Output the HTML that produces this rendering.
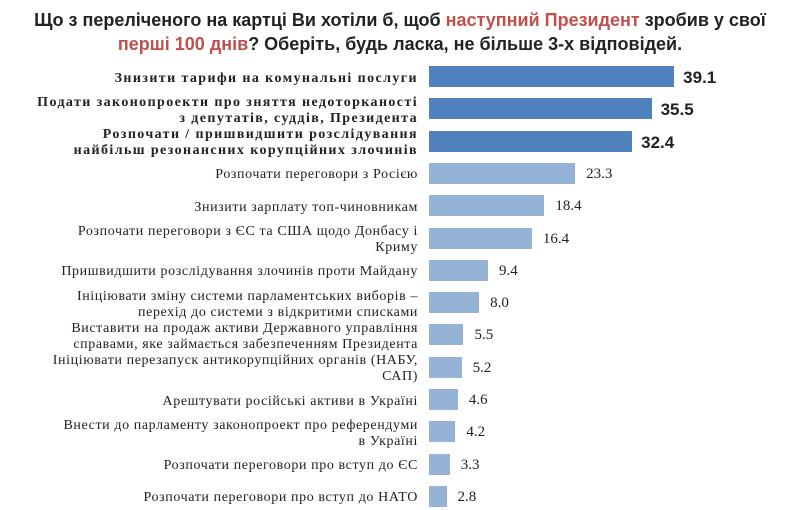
<!DOCTYPE html>
<html><head><meta charset="utf-8"><style>
body{margin:0;width:800px;height:510px;background:#fff;position:relative;overflow:hidden;font-family:"Liberation Serif",serif;color:#222}
.t{position:absolute;left:0;width:800px;text-align:center;font-weight:bold;font-size:18px;font-family:"Liberation Sans",sans-serif;letter-spacing:0px}
.r{color:#c0504d}
.l{position:absolute;right:382px;text-align:right;font-size:14px;letter-spacing:0.6px;line-height:16px;display:flex;align-items:center;justify-content:flex-end;height:22px;white-space:nowrap}
.b{font-weight:bold;font-size:14px;letter-spacing:1.4px}
.bar{position:absolute;left:429px;height:21px}
.v{position:absolute;font-size:15px;line-height:21px}
.vb{font-weight:bold;font-family:"Liberation Sans",sans-serif;font-size:17px}
</style></head><body>
<div class="t" style="top:10px">Що з переліченого на картці Ви хотіли б, щоб <span class="r">наступний Президент</span> зробив у свої</div>
<div class="t" style="top:34px"><span class="r">перші 100 днів</span>? Оберіть, будь ласка, не більше 3-х відповідей.</div>
<div id="c"></div>
<script>
var d=[["Знизити тарифи на комунальні послуги",39.1,1],
["Подати законопроекти про зняття недоторканості<br>з депутатів, суддів, Президента",35.5,1],
["Розпочати / пришвидшити розслідування<br>найбільш резонансних корупційних злочинів",32.4,1],
["Розпочати переговори з Росією",23.3,0],
["Знизити зарплату топ-чиновникам",18.4,0],
["Розпочати переговори з ЄС та США щодо Донбасу і<br>Криму",16.4,0],
["Пришвидшити розслідування злочинів проти Майдану",9.4,0],
["Ініціювати зміну системи парламентських виборів –<br>перехід до системи з відкритими списками",8.0,0],
["Виставити на продаж активи Державного управління<br>справами, яке займається забезпеченням Президента",5.5,0],
["Ініціювати перезапуск антикорупційних органів (НАБУ,<br>САП)",5.2,0],
["Арештувати російські активи в Україні",4.6,0],
["Внести до парламенту законопроект про референдуми<br>в Україні",4.2,0],
["Розпочати переговори про вступ до ЄС",3.3,0],
["Розпочати переговори про вступ до НАТО",2.8,0]];
var h="";
d.forEach(function(r,i){var y=66+32.3*i,w=r[1]*6.27;
h+='<div class="l'+(r[2]?' b':'')+'" style="top:'+(y+1.5)+'px">'+'<span>'+r[0]+'</span></div>';
h+='<div class="bar" style="top:'+y+'px;width:'+w+'px;background:'+(r[2]?'#4f81bd':'#95b3d7')+'"></div>';
h+='<div class="v'+(r[2]?' vb':'')+'" style="top:'+(y+1)+'px;left:'+(429+w+(r[2]?9:11))+'px">'+r[1].toFixed(1)+'</div>';});
document.getElementById("c").innerHTML=h;
</script>
</body></html>
